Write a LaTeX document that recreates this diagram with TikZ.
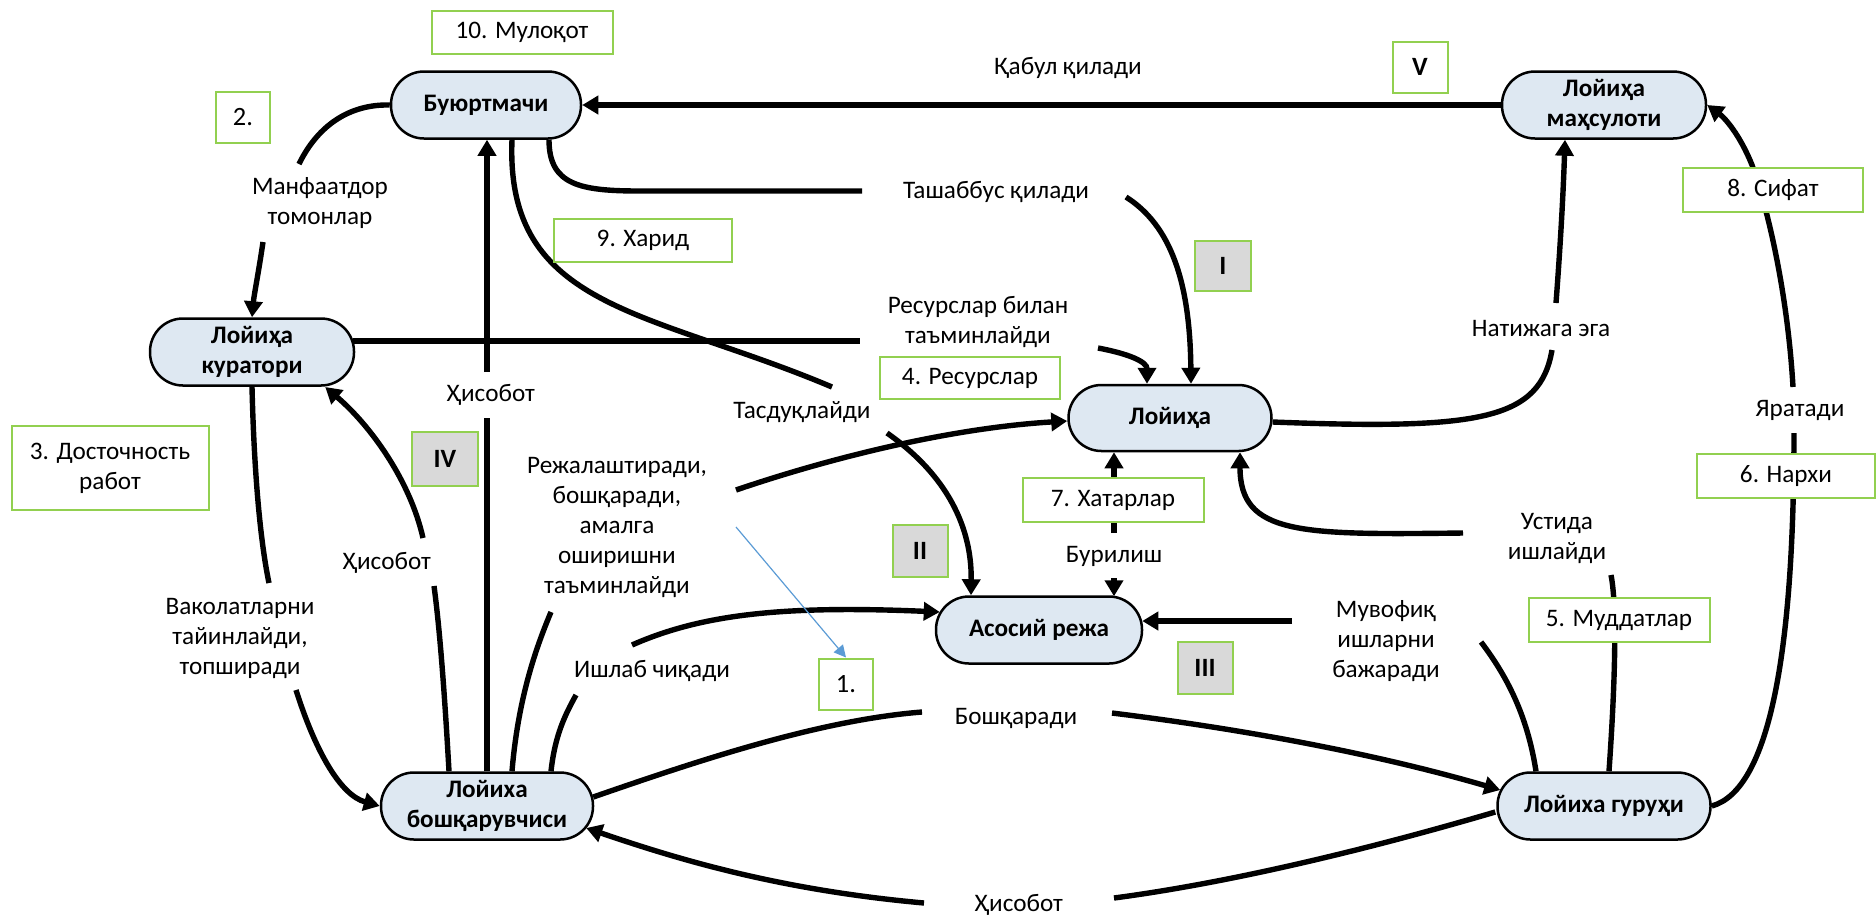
\documentclass[tikz,border=0pt]{standalone}
\usepackage{fontspec}
\setmainfont{Carlito}
\usetikzlibrary{arrows.meta,calc}
\definecolor{nodeblue}{HTML}{DEE8F2}
\definecolor{boxgreen}{HTML}{92D050}
\definecolor{boxgray}{HTML}{D9D9D9}
\definecolor{noteblue}{HTML}{5B9BD5}
\pgfdeclarelayer{background}
\pgfsetlayers{background,main}
\begin{document}
\begin{tikzpicture}[x=0.5pt,y=-0.5pt,
  proc/.style={draw, line width=1.25pt, fill=nodeblue, rounded corners=16.5pt, align=center, inner sep=0pt, font=\fontsize{12.6}{15}\selectfont\bfseries, minimum height=33.5pt},
  gbox/.style={draw=boxgreen, line width=1pt, fill=white, align=center, inner sep=0pt, font=\fontsize{12.6}{15}\selectfont},
  gnum/.style={gbox, font=\fontsize{13.2}{15}\selectfont\bfseries},
  lbl/.style={align=center, inner sep=0pt, font=\fontsize{12.6}{15}\selectfont},
  conn/.style={line width=2.7pt},
  arr/.style={conn, -{Triangle[length=8pt,width=9pt]}},
]
\path[use as bounding box] (0,0) rectangle (1876,918);

% main process nodes
\node[proc, minimum width=95pt]  (B) at (486,105)  {Буюртмачи};
\node[proc, minimum width=102pt] (K) at (252,352)  {Лойиҳа\\куратори};
\node[proc, minimum width=106pt] (M) at (487,806)  {Лойиха\\бошқарувчиси};
\node[proc, minimum width=103pt] (A) at (1039,630) {Асосий режа};
\node[proc, minimum width=101.5pt, minimum height=33pt] (L) at (1170,418) {Лойиҳа};
\node[proc, minimum width=102pt] (P) at (1604,105) {Лойиҳа\\маҳсулоти};
\node[proc, minimum width=106.5pt] (G) at (1604,806) {Лойиха гуруҳи};

% green boxes
\node[gbox, minimum width=90.5pt, minimum height=21.5pt] (n10) at (522,32) {10. Мулоқот};
\node[gbox, font=\fontsize{13.2}{15}\selectfont, minimum width=27pt, minimum height=25.5pt] (n2) at (243,117) {2.};
\node[gbox, minimum width=98.5pt, minimum height=42pt] (n3) at (110,468) {3. Досточность\\работ};
\node[gbox, minimum width=89pt, minimum height=21.5pt] (n9) at (643,240) {9. Харид};
\node[gbox, minimum width=90pt, minimum height=21pt] (n4) at (970,378) {4. Ресурслар};
\node[gbox, minimum width=90pt, minimum height=22pt] (n8) at (1773,190) {8. Сифат};
\node[gbox, minimum width=89pt, minimum height=22pt] (n6) at (1786,476) {6. Нархи};
\node[gbox, minimum width=90.5pt, minimum height=22pt] (n5) at (1619,620) {5. Муддатлар};
\node[gbox, minimum width=90.5pt, minimum height=22pt] (n7) at (1113,500) {7. Хатарлар};
\node[gbox, font=\fontsize{13.2}{15}\selectfont, minimum width=27pt, minimum height=25.5pt] (n1) at (846,684) {1.};
\node[gnum, minimum width=27.5pt, minimum height=25.5pt] (nV) at (1420,67) {V};
\node[gnum, fill=boxgray, minimum width=33pt, minimum height=27pt] (nIV) at (445,459) {IV};
\node[gnum, fill=boxgray, minimum width=28pt, minimum height=25pt] (nI) at (1223,266) {I};
\node[gnum, fill=boxgray, minimum width=27.5pt, minimum height=26pt] (nII) at (920,551) {II};
\node[gnum, fill=boxgray, minimum width=27.5pt, minimum height=26pt] (nIII) at (1205,668) {III};

% connector labels
\node[lbl] (t1) at (1068,68) {Қабул қилади};
\node[lbl] (t2) at (996,192) {Ташаббус қилади};
\node[lbl] (t3) at (978,322) {Ресурслар билан\\таъминлайди};
\node[lbl] (t4) at (802,412) {Тасдуқлайди};
\node[lbl] (t5) at (320,203) {Манфаатдор\\томонлар};
\node[lbl] (t6) at (491,395) {Ҳисобот};
\node[lbl] (t7) at (387,563) {Ҳисобот};
\node[lbl] (t8) at (240,638) {Ваколатларни\\тайинлайди,\\топширади};
\node[lbl] (t9) at (617,527) {Режалаштиради,\\бошқаради,\\амалга\\оширишни\\таъминлайди};
\node[lbl] (t10) at (652,671) {Ишлаб чиқади};
\node[lbl] (t11) at (1016,718) {Бошқаради};
\node[lbl] (t12) at (1019,905) {Ҳисобот};
\node[lbl] (t13) at (1114,556) {Бурилиш};
\node[lbl] (t14) at (1541,328) {Натижага эга};
\node[lbl] (t15) at (1800,410) {Яратади};
\node[lbl] (t16) at (1557,538) {Устида\\ишлайди};
\node[lbl] (t17) at (1386,641) {Мувофиқ\\ишларни\\бажаради};

\begin{pgfonlayer}{background}
% C1 Manfaatdor
\coordinate (c1a) at (299,164);
\coordinate (c1b) at (263,242);
\draw[conn] (B.west) .. controls (350,104) and (318,125) .. (c1a);
\draw[arr] (c1b) .. controls (259,270) and (254,295) .. (K.north);
% C2 Hisobot (vertical)
\coordinate (c2a) at (487,418);
\coordinate (c2b) at (487,372);
\draw[conn] (M.north) -- (c2a);
\draw[arr] (c2b) -- (c2b |- B.south);
% C3 Hisobot (left)
\coordinate (c3a) at (434,586);
\coordinate (c3b) at (423,538);
\draw[conn] ($(M.north)+(-38,0)$) .. controls (445,700) and (440,630) .. (c3a);
\draw[arr] (c3b) .. controls (410,480) and (370,425) .. ($(K.east)+(-30,35)$);
% C4 Vakolatlarni
\coordinate (c4a) at (269,583);
\coordinate (c4b) at (296,690);
\draw[conn] (K.south) .. controls (254,470) and (260,540) .. (c4a);
\draw[arr] (c4b) .. controls (315,750) and (340,795) .. (M.west);
% C5 Tashabbus
\coordinate (c5a) at (862,191);
\coordinate (c5b) at (1126,197);
\draw[conn] ($(B.south)+(63,0)$) .. controls (549,185) and (580,191) .. (640,191) -- (c5a);
\draw[arr] (c5b) .. controls (1170,225) and (1190,280) .. ($(L.north)+(21,0)$);
% C6 Resurslar bilan
\coordinate (c6a) at (860,341);
\coordinate (c6b) at (1098,348);
\draw[conn] ($(K.east)+(-2,-11)$) -- (c6a);
\draw[arr] (c6b) .. controls (1130,354) and (1147,362) .. ($(L.north)+(-23,0)$);
% C7 Tasdiqlaydi
\coordinate (c7a) at (832,387);
\coordinate (c7b) at (887,433);
\draw[conn] ($(B.south)+(26,0)$) .. controls (505,310) and (650,310) .. (c7a);
\draw[arr] (c7b) .. controls (940,470) and (972,520) .. ($(A.north)+(-68,0)$);
% C8 Rejalashtiradi
\coordinate (c8a) at (551,612);
\coordinate (c8b) at (736,490);
\draw[conn] ($(M.north)+(25,0)$) .. controls (518,700) and (535,650) .. (c8a);
\draw[arr] (c8b) .. controls (830,458) and (950,428) .. ($(L.west)+(0,3)$);
% C9 Ishlab chiqadi
\coordinate (c9a) at (576,695);
\coordinate (c9b) at (632,645);
\draw[conn] ($(M.north)+(64,0)$) .. controls (555,735) and (565,715) .. (c9a);
\draw[arr] (c9b) .. controls (700,615) and (780,605) .. ($(A.west)+(5,-18)$);
% C10 Natijaga ega
\coordinate (c10a) at (1552,350);
\coordinate (c10b) at (1556,303);
\draw[conn] ($(L.east)+(0,4)$) .. controls (1480,430) and (1540,420) .. (c10a);
\draw[arr] (c10b) .. controls (1560,250) and (1563,200) .. ($(P.south)+(-39,0)$);
% C11 Yaratadi
\coordinate (c11a) at (1794,433);
\coordinate (c11b) at (1793,387);
\draw[conn] (G.east) .. controls (1770,790) and (1794,650) .. (c11a);
\draw[arr] (c11b) .. controls (1788,300) and (1770,215) .. (1752,165) .. controls (1740,135) and (1725,118) .. (P.east);
% C12 Ustida ishlaydi
\coordinate (c12a) at (1611,575);
\coordinate (c12b) at (1463,533);
\draw[conn] ($(G.north)+(5,0)$) .. controls (1614,700) and (1618,610) .. (c12a);
\draw[arr] (c12b) .. controls (1300,535) and (1240,535) .. ($(L.south)+(70,0)$);
% C13 Muvofiq
\coordinate (c13a) at (1481,642);
\coordinate (c13b) at (1292,621);
\draw[conn] ($(G.north)+(-68,0)$) .. controls (1528,720) and (1510,680) .. (c13a);
\draw[arr] (c13b) -- ($(A.east)+(-1,-9)$);
% C14 Boshqaradi
\coordinate (c14a) at (922,712);
\coordinate (c14b) at (1112,713);
\draw[conn] ($(M.east)+(-1,-9)$) .. controls (700,760) and (820,720) .. (c14a);
\draw[arr] (c14b) .. controls (1250,730) and (1380,755) .. ($(G.west)+(4,-16)$);
% C15 Hisobot (bottom)
\coordinate (c15a) at (1114,898);
\coordinate (c15b) at (924,903);
\draw[conn] ($(G.west)+(-1,6)$) .. controls (1400,840) and (1250,880) .. (c15a);
\draw[arr] (c15b) .. controls (780,890) and (680,860) .. ($(M.east)+(-8,22)$);
% C16 Qabul qiladi
\draw[arr] (P.west) -- (B.east);
% C17 Burilish
\coordinate (c17a) at (1114,533);
\coordinate (c17b) at (1114,578);
\draw[arr] (c17a) -- (c17a |- L.south);
\draw[arr] (c17b) -- ($(A.north)+(75,1)$);
% blue note arrow
\coordinate (c18) at (736,527);
\draw[noteblue, line width=0.6pt, -{Triangle[length=6pt,width=6pt]}] (c18) -- (n1.north);
\end{pgfonlayer}
\end{tikzpicture}
\end{document}
